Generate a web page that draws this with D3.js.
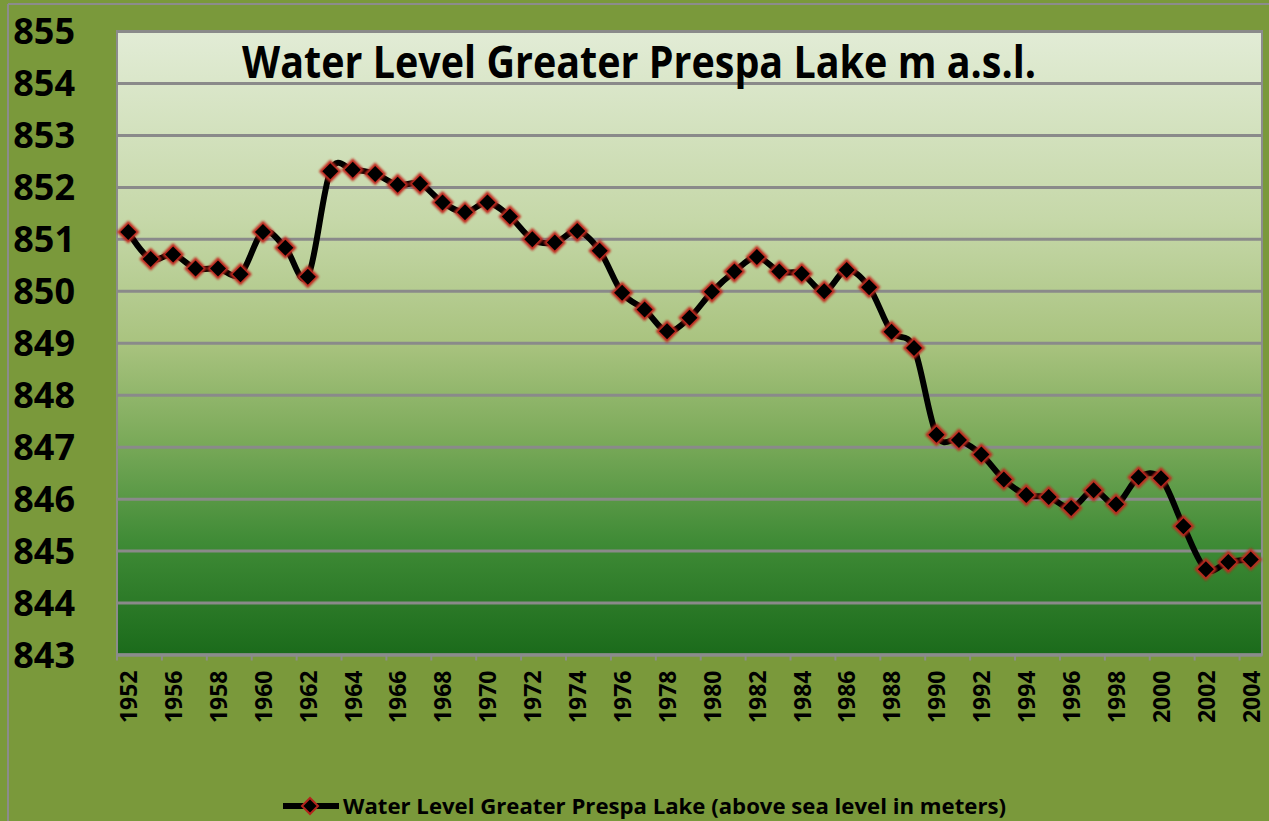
<!DOCTYPE html>
<html>
<head>
<meta charset="utf-8">
<script src="https://cdn.jsdelivr.net/npm/d3@7"></script>
<style>
  body { margin: 0; background: #7a993b; }
  svg { display: block; font-family: "Open Sans", "DejaVu Sans", sans-serif; font-weight: bold; }
</style>
</head>
<body>
<div id="chart"></div>
<script>
// data
const years = [1952, 1955, 1956, 1957, 1958, 1959, 1960, 1961, 1962, 1963,
    1964, 1965, 1966, 1967, 1968, 1969, 1970, 1971, 1972, 1973,
    1974, 1975, 1976, 1977, 1978, 1979, 1980, 1981, 1982, 1983,
    1984, 1985, 1986, 1987, 1988, 1989, 1990, 1991, 1992, 1993,
    1994, 1995, 1996, 1997, 1998, 1999, 2000, 2001, 2002, 2003, 2004];
const levels = [851.13, 850.61, 850.70, 850.43, 850.43, 850.32, 851.13, 850.83, 850.27, 852.30,
    852.33, 852.25, 852.04, 852.06, 851.70, 851.51, 851.70, 851.43, 850.99, 850.93,
    851.15, 850.77, 849.96, 849.64, 849.22, 849.48, 849.98, 850.37, 850.65, 850.37,
    850.33, 849.99, 850.40, 850.07, 849.21, 848.90, 847.23, 847.13, 846.85, 846.37,
    846.07, 846.03, 845.82, 846.16, 845.89, 846.41, 846.39, 845.47, 844.64, 844.78, 844.83];
const yTicks = [843, 844, 845, 846, 847, 848, 849, 850, 851, 852, 853, 854, 855];
const titleText = 'Water Level Greater Prespa Lake m a.s.l.';
const legendText = 'Water Level Greater Prespa Lake (above sea level in meters)';

const width = 1269, height = 821;
const plot = { left: 117, right: 1262, top: 31, bottom: 654.5 };

const svg = d3.select('#chart')
    .append('svg')
    .attr('width', width)
    .attr('height', height);

// outer frame
svg.append('rect')
    .attr('x', 0).attr('y', 0)
    .attr('width', width).attr('height', height)
    .style('fill', '#7a993b');
svg.append('line')
    .attr('x1', 8).attr('x2', width).attr('y1', 4).attr('y2', 4)
    .style('stroke', '#8c8c8c').style('stroke-width', 2);
svg.append('line')
    .attr('x1', 8).attr('x2', 8).attr('y1', 4).attr('y2', height)
    .style('stroke', '#8c8c8c').style('stroke-width', 2);

const defs = svg.append('defs');
const grad = defs.append('linearGradient')
    .attr('id', 'plotGrad')
    .attr('x1', 0).attr('y1', 0).attr('x2', 0).attr('y2', 1);
grad.append('stop').attr('offset', '0%').attr('stop-color', '#e2ecd6');
grad.append('stop').attr('offset', '30%').attr('stop-color', '#c6d8a9');
grad.append('stop').attr('offset', '50%').attr('stop-color', '#a9c37f');
grad.append('stop').attr('offset', '65%').attr('stop-color', '#7dab5b');
grad.append('stop').attr('offset', '82%').attr('stop-color', '#3f8b36');
grad.append('stop').attr('offset', '100%').attr('stop-color', '#1b6b1b');

// soft red glow round the markers
const glow = defs.append('filter')
    .attr('id', 'glow')
    .attr('x', '-50%').attr('y', '-50%')
    .attr('width', '200%').attr('height', '200%');
glow.append('feGaussianBlur').attr('stdDeviation', 1.2);

svg.append('rect')
    .attr('x', plot.left).attr('y', plot.top)
    .attr('width', plot.right - plot.left)
    .attr('height', plot.bottom - plot.top)
    .style('fill', 'url(#plotGrad)')
    .style('stroke', '#8c8c8c')
    .style('stroke-width', 2);

const x = d3.scalePoint()
    .domain(years)
    .range([plot.left, plot.right])
    .padding(0.5);

const y = d3.scaleLinear()
    .domain([843, 855])
    .range([plot.bottom, plot.top]);

// y axis with gridlines
const yAxis = svg.append('g')
    .attr('transform', 'translate(' + plot.left + ',0)')
    .call(d3.axisLeft(y)
        .tickValues(yTicks)
        .tickFormat(d3.format('d'))
        .tickSize(-(plot.right - plot.left))
        .tickPadding(42));
yAxis.select('.domain').remove();
yAxis.selectAll('line')
    .style('stroke', '#8a8a8a')
    .style('stroke-width', 3);
yAxis.selectAll('text')
    .style('font-size', '36px')
    .style('font-weight', 'bold')
    .style('font-family', '"Open Sans", sans-serif')
    .style('fill', '#000')
    .attr('dy', '0.36em');

// x axis
const xAxis = svg.append('g')
    .attr('transform', 'translate(0,' + plot.bottom + ')')
    .call(d3.axisBottom(x)
        .tickValues(years.filter((d, i) => i % 2 === 0))
        .tickSize(0)
        .tickPadding(0));
xAxis.select('.domain')
    .style('stroke', '#8c8c8c')
    .style('stroke-width', 3);
xAxis.selectAll('text')
    .attr('transform', 'rotate(-90)')
    .attr('x', -16)
    .attr('y', 0)
    .attr('dy', '0.36em')
    .style('text-anchor', 'end')
    .style('font-size', '23px')
    .style('font-weight', 'bold')
    .style('font-family', '"Open Sans", sans-serif')
    .style('fill', '#000');

// small tick marks between every other category
const step = x.step();
svg.append('g')
    .selectAll('line')
    .data(years.filter((d, i) => i % 2 === 0).concat([null]))
    .enter()
    .append('line')
    .attr('x1', (d, i) => plot.left + i * 2 * step)
    .attr('x2', (d, i) => plot.left + i * 2 * step)
    .attr('y1', plot.bottom)
    .attr('y2', plot.bottom + 6)
    .style('stroke', '#8c8c8c')
    .style('stroke-width', 2);

// the line
const line = d3.line()
    .x((d, i) => x(years[i]))
    .y(d => y(d))
    .curve(d3.curveCatmullRom.alpha(0));

svg.append('path')
    .datum(levels)
    .attr('d', line)
    .style('fill', 'none')
    .style('stroke', '#000')
    .style('stroke-width', 6)
    .style('stroke-linejoin', 'round');

const diamond = 'M0,-10L10,0L0,10L-10,0Z';
const markers = svg.append('g');

markers.selectAll('path.halo')
    .data(levels)
    .enter()
    .append('path')
    .attr('class', 'halo')
    .attr('d', diamond)
    .attr('transform', (d, i) => 'translate(' + x(years[i]) + ',' + y(d) + ')')
    .style('fill', '#c0281e')
    .style('stroke', '#c0281e')
    .style('stroke-width', 2)
    .attr('filter', 'url(#glow)');

markers.selectAll('path.dot')
    .data(levels)
    .enter()
    .append('path')
    .attr('class', 'dot')
    .attr('d', 'M0,-8L8,0L0,8L-8,0Z')
    .attr('transform', (d, i) => 'translate(' + x(years[i]) + ',' + y(d) + ')')
    .style('fill', '#000');

// title
svg.append('text')
    .attr('x', 242)
    .attr('y', 78)
    .attr('textLength', 794)
    .attr('lengthAdjust', 'spacingAndGlyphs')
    .style('font-size', '45px')
    .style('fill', '#000')
    .text(titleText);

// legend
const lg = svg.append('g').attr('transform', 'translate(283,806)');
lg.append('line')
    .attr('x1', 0).attr('x2', 56)
    .attr('y1', 0).attr('y2', 0)
    .style('stroke', '#000')
    .style('stroke-width', 6);
lg.append('path')
    .attr('d', 'M0,-8L8,0L0,8L-8,0Z')
    .attr('transform', 'translate(27,0)')
    .style('fill', '#000')
    .style('stroke', '#b3241b')
    .style('stroke-width', 2);
lg.append('text')
    .attr('x', 60)
    .attr('y', 8)
    .attr('textLength', 663)
    .attr('lengthAdjust', 'spacingAndGlyphs')
    .style('font-size', '22px')
    .style('fill', '#000')
    .text(legendText);
</script>
</body>
</html>
